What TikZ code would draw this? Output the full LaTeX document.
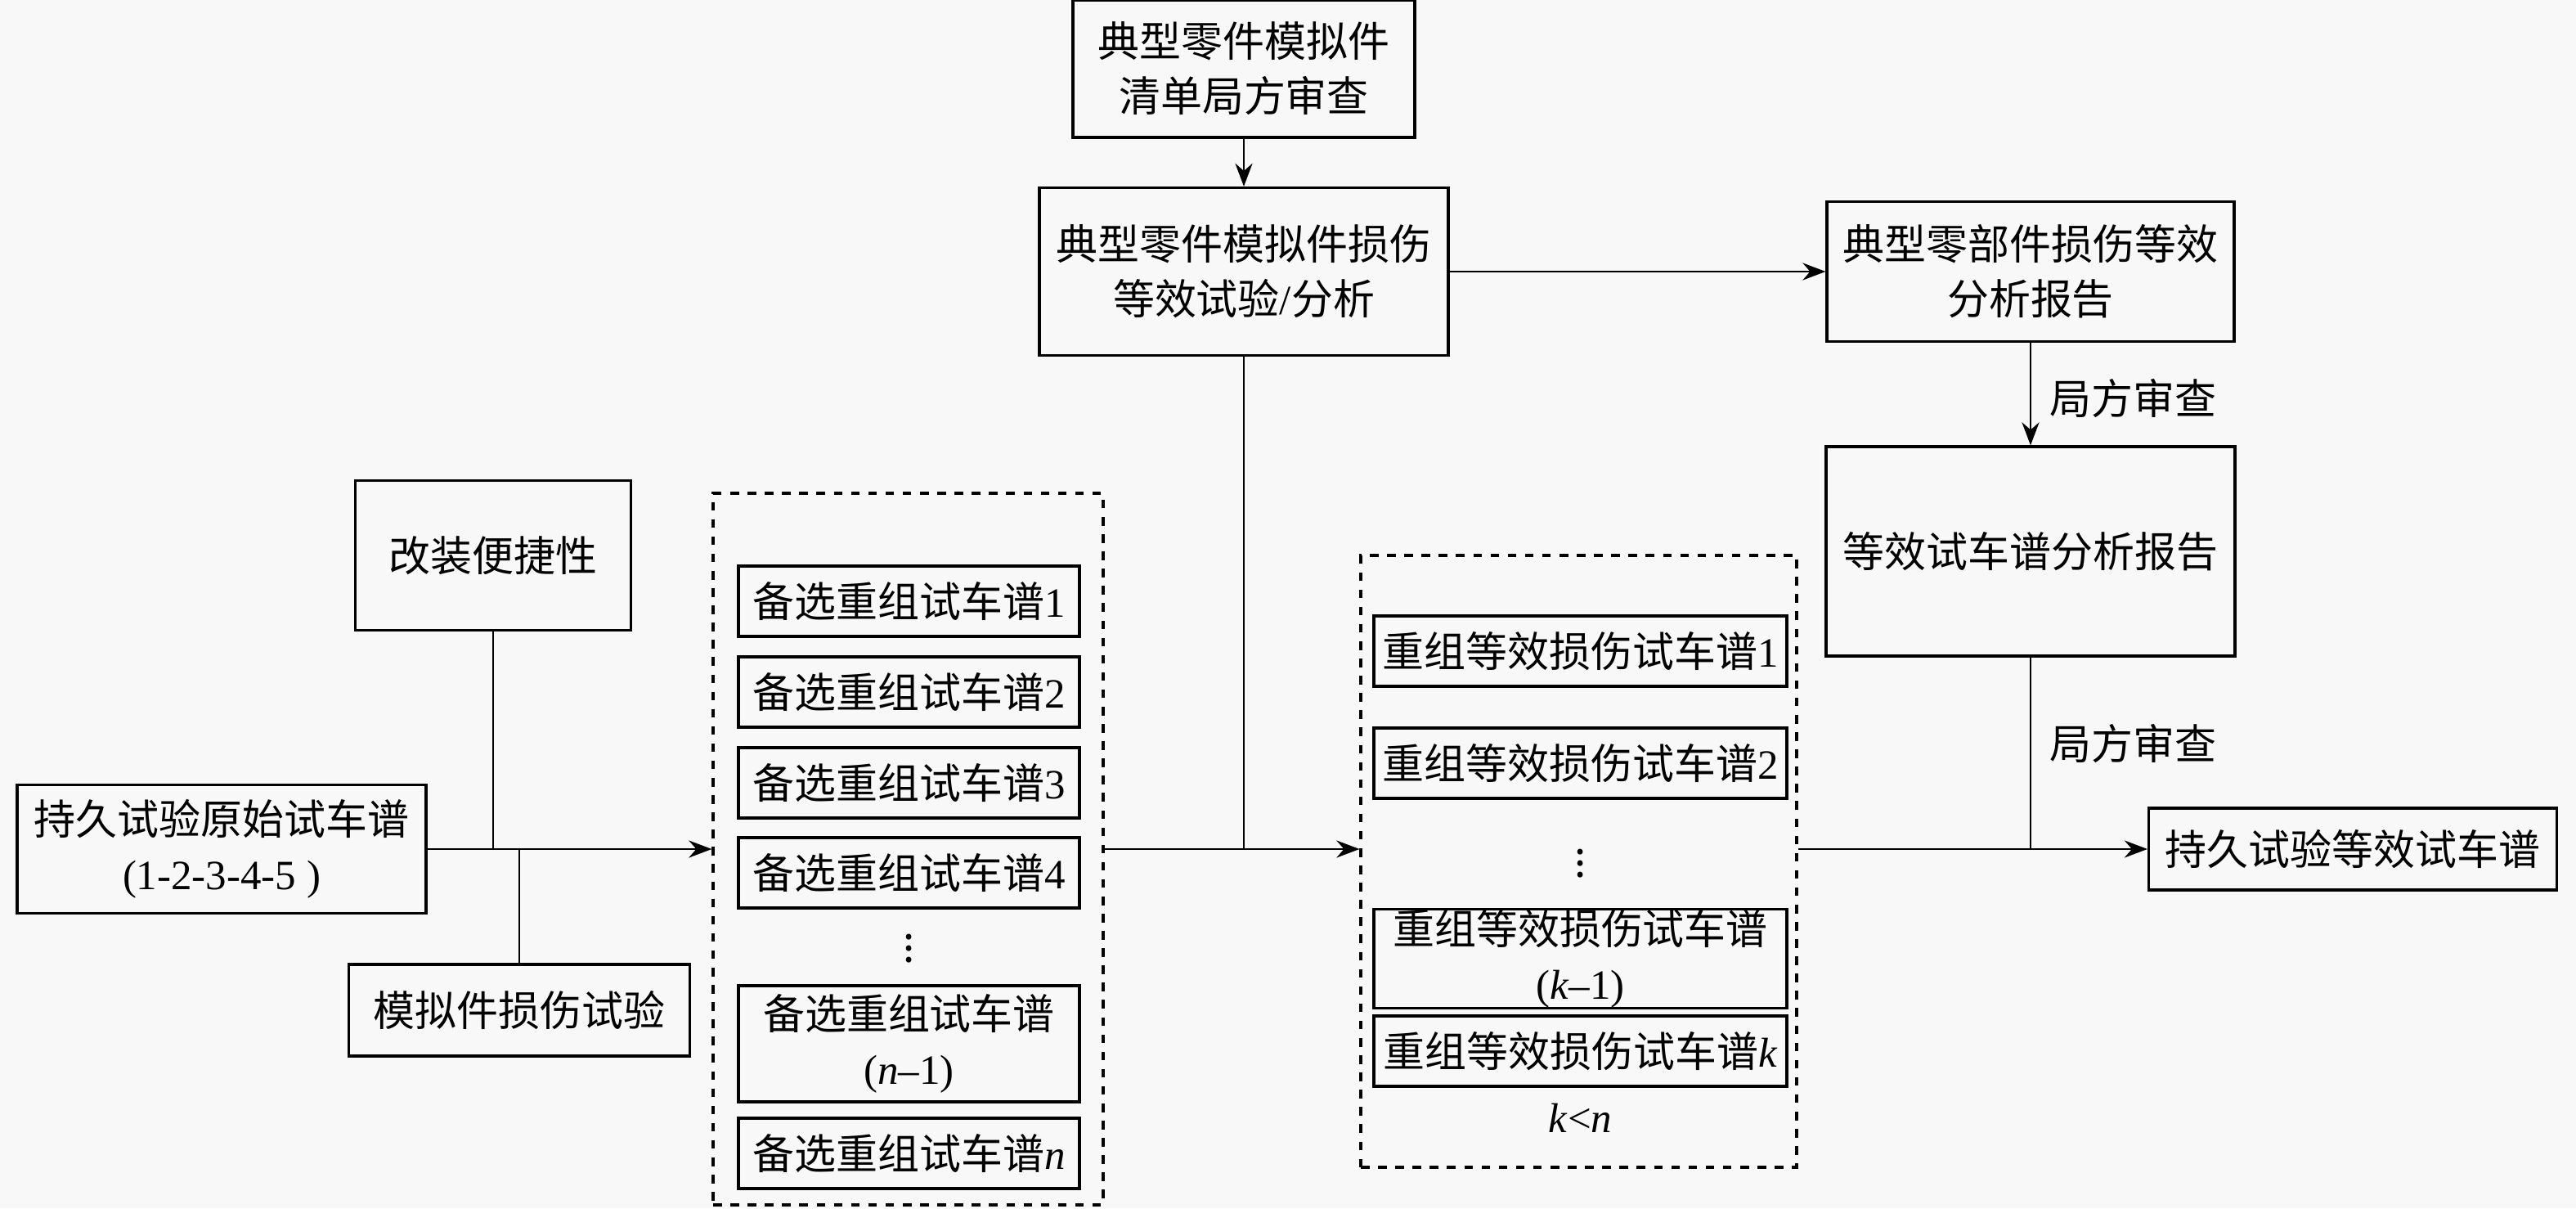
\documentclass[tikz,border=0pt]{standalone}
\usepackage{fontspec}
\setmainfont{Liberation Serif}
\newfontfamily\zh{Noto Sans CJK SC}
\usetikzlibrary{positioning}
\usetikzlibrary{arrows.meta}
\usetikzlibrary{calc}
\newcommand{\lat}[1]{{\rmfamily #1}}
\definecolor{bgpaper}{RGB}{248,248,248}
\tikzstyle{box}=[draw,line width=0.9pt,align=center,inner sep=0pt,font=\zh\fontsize{14.5}{19}\selectfont]
\tikzstyle{inbox}=[box,minimum width=4.17cm,minimum height=0.86cm]
\tikzstyle{kbox}=[box,minimum width=5.05cm,minimum height=0.86cm]
\tikzstyle{dashbox}=[draw,line width=0.9pt,dash pattern=on 3pt off 3pt,inner sep=0pt]
\tikzstyle{edge} = [draw,line width=0.8pt,-{Stealth[length=8pt,width=6pt]}]
\tikzstyle{line} = [draw,line width=0.8pt]
\tikzstyle{note} = [font=\zh\fontsize{14.5}{19}\selectfont,inner sep=0pt]

\begin{document}
\begin{tikzpicture}
    \useasboundingbox (0,0) rectangle (31.5,14.77);
    \fill[bgpaper] (0,0) rectangle (31.5,14.77);

    % Boxes of the upper branch
    \node[box, minimum width=4.18cm, minimum height=1.68cm] (list) at (15.21,13.93) {典型零件模拟件\\清单局方审查};
    \node[box, minimum width=5.0cm, minimum height=2.05cm] (test) at (15.21,11.45) {典型零件模拟件损伤\\等效试验\lat{/}分析};
    \node[box, minimum width=4.98cm, minimum height=1.71cm] (part) at (24.83,11.45) {典型零部件损伤等效\\分析报告};
    \node[box, minimum width=5.0cm, minimum height=2.56cm] (report) at (24.83,8.03) {等效试车谱分析报告};
    \node[box, minimum width=4.99cm, minimum height=1.0cm] (final) at (28.77,4.39) {持久试验等效试车谱};

    % Boxes on the left
    \node[box, minimum width=5.0cm, minimum height=1.57cm] (orig) at (2.71,4.39) {持久试验原始试车谱\\\lat{(1-2-3-4-5 )}};
    \node[box, minimum width=3.37cm, minimum height=1.83cm] (refit) at (6.03,7.98) {改装便捷性};
    \node[box, minimum width=4.17cm, minimum height=1.12cm] (simtest) at (6.35,2.42) {模拟件损伤试验};

    % Candidate spectra
    \node[dashbox, minimum width=4.77cm, minimum height=8.70cm] (cand) at (11.105,4.39) {};
    \foreach \y/\name/\txt in {7.42/c1/{1}, 6.31/c2/{2}, 5.20/c3/{3}, 4.10/c4/{4}, 0.67/cn/{\itshape n}}
        \node[inbox] (\name) at (11.115,\y) {备选重组试车谱\lat{\txt}};
    \node[note] (cdots) at (11.115,3.28) {$\vdots$};
    \node[inbox, minimum height=1.42cm] (cn1) at (11.115,2.01) {备选重组试车谱\\\lat{(\textit{n}–1)}};

    % Recombined equivalent spectra
    \node[dashbox, minimum width=5.33cm, minimum height=7.48cm] (equi) at (19.305,4.24) {};
    \foreach \y/\name/\txt in {6.81/e1/{1}, 5.44/e2/{2}, 1.92/ek/{\itshape k}}
        \node[kbox] (\name) at (19.325,\y) {重组等效损伤试车谱\lat{\txt}};
    \node[note] (edots) at (19.325,4.32) {$\vdots$};
    \node[kbox, minimum height=1.15cm] (ek1) at (19.325,3.05) {重组等效损伤试车谱\\\lat{(\textit{k}–1)}};
    \node[note] (kn) at (19.325,1.10) {\lat{\textit{k}<\textit{n}}};

    % Connectors
    \path[edge] (list) -- (test);
    \path[edge] (test) -- (part);
    \path[edge] (part) -- (report);
    \node[note, anchor=west] (rev1) at (25.06,9.90) {局方审查};
    \node[note, anchor=west] (rev2) at (25.06,5.68) {局方审查};

    \path[edge] (orig) -- (cand);
    \path[line] (refit) -- (refit |- orig);
    \path[line] (simtest) -- (simtest |- orig);
    \path[edge] (cand.east) -- (cand.east -| equi.west);
    \path[line] (test) -- (test |- cand.east);
    \path[edge] (equi.east |- final) -- (final);
    \path[line] (report) -- (report |- final);
\end{tikzpicture}
\end{document}
